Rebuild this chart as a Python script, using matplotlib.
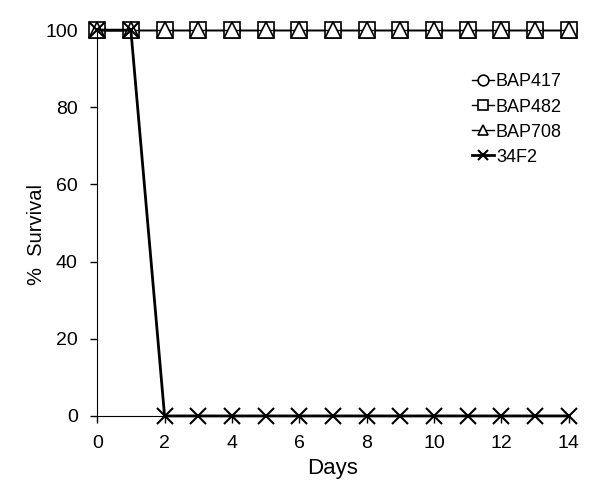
import matplotlib.pyplot as plt
import numpy as np

days = list(range(0, 15))
bap417 = [100] * 15
bap482 = [100] * 15
bap708 = [100] * 15
f34f2 = [100, 100, 0, 0, 0, 0, 0, 0, 0, 0, 0, 0, 0, 0, 0]

plt.rcParams['font.family'] = ['Liberation Sans', 'DejaVu Sans']

fig = plt.figure(figsize=(6, 4.94), dpi=100)
ax = fig.add_axes([0.162, 0.158, 0.786, 0.781])

mk = dict(color='black', markerfacecolor='white', markeredgecolor='black',
          markersize=11, markeredgewidth=1.2, linewidth=1.0, clip_on=False)
ax.plot(days, bap417, marker='o', label='BAP417', **mk)
ax.plot(days, bap482, marker='s', label='BAP482', **mk)
ax.plot(days, bap708, marker='^', label='BAP708', **mk)
ax.plot(days, f34f2, marker='x', color='black', markersize=11,
        markeredgewidth=1.5, linewidth=2.0, label='34F2', clip_on=False)

ax.set_xlim(0, 14)
ax.set_ylim(0, 100)
ax.set_xticks(range(0, 15, 2))
ax.set_yticks(range(0, 101, 20))
ax.spines['top'].set_visible(False)
ax.spines['right'].set_visible(False)
ax.tick_params(direction='out', length=5, labelsize=14, width=1, pad=9)
ax.set_xlabel('Days', fontsize=16, labelpad=4)
ax.set_ylabel('%  Survival', fontsize=14.5)
ax.yaxis.set_label_coords(-0.108, 0.47)

ax.legend(loc='upper right', bbox_to_anchor=(1.02, 0.93), frameon=False,
          fontsize=13, handlelength=1.25, handletextpad=0.1, labelspacing=0.45,
          markerscale=0.7)

fig.savefig('out.png', dpi=100)
